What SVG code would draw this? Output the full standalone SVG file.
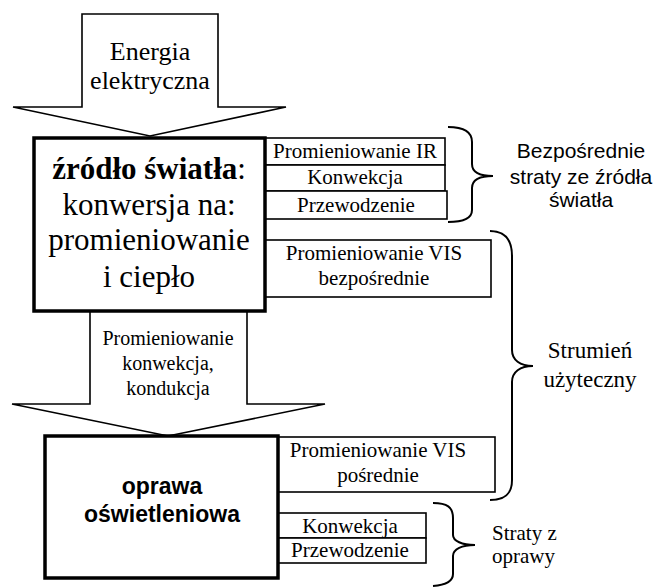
<svg xmlns="http://www.w3.org/2000/svg" width="655" height="587" viewBox="0 0 655 587">
<style>
.serif{font-family:"Liberation Serif","Times New Roman",serif;fill:#000;text-anchor:middle}
.left{text-anchor:start}
.sans{font-family:"Liberation Sans",Arial,sans-serif;fill:#000;text-anchor:middle}
.arrow{fill:#fff;stroke:#000;stroke-width:1.6;stroke-linejoin:miter}
.thick{fill:#fff;stroke:#000;stroke-width:3.5}
.small{fill:#fff;stroke:#000;stroke-width:1.6}
.brace{fill:none;stroke:#000;stroke-width:2}
</style>
<rect width="655" height="587" fill="#fff"/>
<g id="connectors">
  <g id="arrow-energia">
    <polygon class="arrow" points="82,14 218,14 218,107 286,107 150,136 13,107 82,107"/>
    <text class="serif" font-size="26" x="150" y="60">Energia</text>
    <text class="serif" font-size="26" x="150" y="89">elektryczna</text>
  </g>
  <g id="arrow-middle">
    <polygon class="arrow" points="90,310 247,310 247,404 325,404 168,436 12,404 90,404"/>
    <text class="serif" font-size="20" x="168" y="345">Promieniowanie</text>
    <text class="serif" font-size="20" x="168" y="370">konwekcja,</text>
    <text class="serif" font-size="20" x="168" y="395">kondukcja</text>
  </g>
  <path id="brace1" class="brace" d="M448,127 C463,127 472,131 472,142 L472,164 C472,172 480,176 493,176 C480,176 472,180 472,188 L472,210 C472,219 463,222 448,222"/>
  <path id="brace2" class="brace" d="M490,231 C505,231 512,239 512,256 L512,350 C512,360 520,366 533,366 C520,366 512,372 512,382 L512,480 C512,494 505,500 490,500"/>
  <path id="brace3" class="brace" d="M433,503 C447,503 453,507 453,518 L453,535 C453,541 462,545 475,545 C462,545 453,549 453,556 L453,574 C453,581 447,585 433,586"/>
</g>
<g id="ir">
  <rect class="small" x="264" y="138" width="181" height="27"/>
  <text class="serif" font-size="21" x="355" y="158">Promieniowanie IR</text>
</g>
<g id="konwekcja1">
  <rect class="small" x="264" y="165" width="181" height="26"/>
  <text class="serif" font-size="21" x="355" y="184">Konwekcja</text>
</g>
<g id="przewodzenie1">
  <rect class="small" x="264" y="191" width="183" height="28"/>
  <text class="serif" font-size="21" x="356" y="212">Przewodzenie</text>
</g>
<g id="vis-bezp">
  <rect class="small" x="264" y="240" width="227" height="57"/>
  <text class="serif" font-size="21" x="374" y="260">Promieniowanie VIS</text>
  <text class="serif" font-size="21" x="374" y="285">bezpośrednie</text>
</g>
<g id="zrodlo">
  <rect class="thick" x="34" y="138" width="231" height="173"/>
  <text class="serif" font-size="31" x="149" y="179"><tspan font-weight="bold">źródło światła</tspan>:</text>
  <text class="serif" font-size="31" x="149" y="215">konwersja na:</text>
  <text class="serif" font-size="31" x="149" y="250">promieniowanie</text>
  <text class="serif" font-size="31" x="149" y="287">i ciepło</text>
</g>
<g id="vis-posr">
  <rect class="small" x="278" y="437" width="217" height="55"/>
  <text class="serif" font-size="21" x="378" y="457">Promieniowanie VIS</text>
  <text class="serif" font-size="21" x="378" y="482">pośrednie</text>
</g>
<g id="konwekcja2">
  <rect class="small" x="278" y="513" width="148" height="25"/>
  <text class="serif" font-size="21" x="350" y="533">Konwekcja</text>
</g>
<g id="przewodzenie2">
  <rect class="small" x="278" y="538" width="148" height="25"/>
  <text class="serif" font-size="21" x="350" y="557">Przewodzenie</text>
</g>
<g id="oprawa">
  <rect class="thick" x="45" y="436" width="233" height="142"/>
  <text class="sans" font-size="23" font-weight="bold" x="162" y="494">oprawa</text>
  <text class="sans" font-size="23" font-weight="bold" x="162" y="522">oświetleniowa</text>
</g>
<g id="label-bezp">
  <text class="sans" font-size="21" x="581" y="158">Bezpośrednie</text>
  <text class="sans" font-size="21" x="581" y="184">straty ze źródła</text>
  <text class="sans" font-size="21" x="581" y="207">światła</text>
</g>
<g id="label-strumien">
  <text class="serif" font-size="23" x="590" y="358">Strumień</text>
  <text class="serif" font-size="23" x="590" y="387">użyteczny</text>
</g>
<g id="label-straty">
  <text class="serif left" font-size="21" x="492" y="540">Straty z</text>
  <text class="serif left" font-size="21" x="492" y="563">oprawy</text>
</g>
</svg>
